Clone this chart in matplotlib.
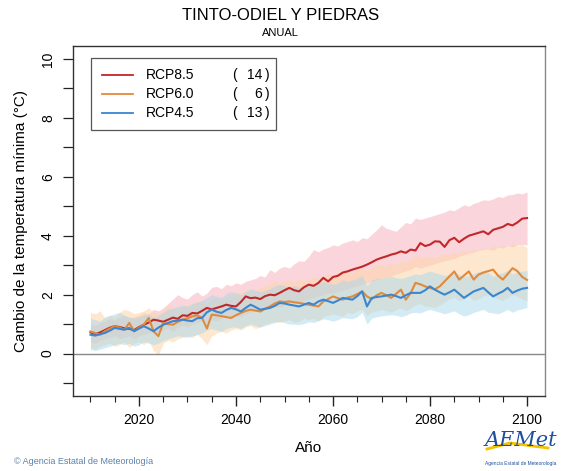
import matplotlib
matplotlib.use("Agg")
import matplotlib.pyplot as plt
import numpy as np

plt.rcParams['font.family'] = ['Liberation Sans', 'DejaVu Sans']

years = list(range(2010, 2101))

rcp85_mean = [0.72, 0.66, 0.72, 0.80, 0.88, 0.93, 0.90, 0.86, 0.84, 0.80,
              0.90, 0.98, 1.05, 1.15, 1.12, 1.08, 1.15, 1.22, 1.18, 1.30,
              1.28, 1.38, 1.36, 1.45, 1.55, 1.50, 1.55, 1.60, 1.66, 1.62,
              1.60, 1.75, 1.94, 1.88, 1.90, 1.85, 1.95, 2.00, 1.98, 2.06,
              2.15, 2.23, 2.15, 2.11, 2.25, 2.34, 2.30, 2.40, 2.57, 2.45,
              2.60, 2.64, 2.75, 2.79, 2.85, 2.90, 2.95, 3.02, 3.10, 3.19,
              3.25, 3.30, 3.36, 3.40, 3.47, 3.42, 3.53, 3.50, 3.75, 3.65,
              3.70, 3.81, 3.80, 3.62, 3.85, 3.93, 3.78, 3.90, 4.00, 4.05,
              4.10, 4.15, 4.05, 4.20, 4.25, 4.30, 4.40, 4.35, 4.45, 4.58, 4.60]
rcp85_hi = [1.00, 0.95, 1.05, 1.10, 1.20, 1.15, 1.25, 1.30, 1.20, 1.25,
            1.30, 1.40, 1.35, 1.50, 1.45, 1.55, 1.70, 1.85, 2.00, 1.90,
            1.85, 2.00, 2.10, 1.95, 2.05, 2.25, 2.28, 2.20, 2.35, 2.30,
            2.40, 2.35, 2.45, 2.50, 2.55, 2.65, 2.60, 2.85, 2.75, 2.90,
            2.96, 2.90, 3.05, 3.15, 3.13, 3.30, 3.53, 3.45, 3.55, 3.60,
            3.69, 3.65, 3.75, 3.80, 3.86, 3.80, 3.93, 3.90, 4.05, 4.20,
            4.37, 4.25, 4.20, 4.15, 4.30, 4.45, 4.40, 4.60, 4.55, 4.60,
            4.65, 4.70, 4.75, 4.80, 4.88, 4.85, 4.95, 5.05, 5.00, 5.10,
            5.15, 5.22, 5.20, 5.25, 5.33, 5.30, 5.38, 5.40, 5.45, 5.42, 5.49]
rcp85_lo = [0.40, 0.35, 0.45, 0.50, 0.55, 0.60, 0.50, 0.55, 0.60, 0.50,
            0.60, 0.65, 0.70, 0.75, 0.70, 0.80, 0.85, 0.75, 0.90, 0.95,
            0.90, 1.00, 1.05, 1.10, 1.05, 1.15, 1.10, 1.20, 1.25, 1.20,
            1.30, 1.25, 1.35, 1.40, 1.45, 1.40, 1.50, 1.55, 1.60, 1.58,
            1.65, 1.70, 1.75, 1.72, 1.80, 1.85, 1.90, 1.95, 2.00, 2.05,
            2.05, 2.10, 2.15, 2.20, 2.25, 2.30, 2.35, 2.40, 2.45, 2.50,
            2.55, 2.60, 2.62, 2.70, 2.75, 2.80, 2.85, 2.96, 2.90, 2.95,
            3.00, 3.05, 3.10, 3.15, 3.19, 3.22, 3.30, 3.35, 3.40, 3.45,
            3.50, 3.53, 3.55, 3.50, 3.60, 3.58, 3.65, 3.62, 3.68, 3.70, 3.69]

rcp60_mean = [0.75, 0.70, 0.64, 0.76, 0.85, 0.93, 0.88, 0.81, 1.04, 0.76,
              0.88, 0.98, 1.21, 0.76, 0.59, 1.04, 1.00, 0.98, 1.08, 1.15,
              1.20, 1.26, 1.30, 1.21, 0.85, 1.32, 1.30, 1.27, 1.24, 1.21,
              1.30, 1.38, 1.45, 1.49, 1.46, 1.43, 1.52, 1.60, 1.70, 1.77,
              1.75, 1.77, 1.74, 1.72, 1.69, 1.66, 1.63, 1.60, 1.77, 1.85,
              1.94, 1.88, 1.83, 1.90, 1.94, 2.02, 2.11, 1.94, 1.85, 1.98,
              2.06, 1.98, 1.89, 2.03, 2.17, 1.83, 2.05, 2.40, 2.35, 2.28,
              2.23, 2.18, 2.28, 2.45, 2.62, 2.79, 2.51, 2.65, 2.79, 2.51,
              2.68, 2.75, 2.80, 2.85, 2.65, 2.51, 2.70, 2.90, 2.80, 2.60, 2.50]
rcp60_hi = [1.40, 1.35, 1.45, 1.20, 1.30, 1.25, 1.40, 1.50, 1.45, 1.35,
            1.40, 1.45, 1.55, 1.40, 1.35, 1.45, 1.65, 1.50, 1.55, 1.60,
            1.65, 1.70, 1.75, 1.80, 1.70, 1.85, 1.90, 1.80, 1.95, 2.00,
            2.10, 2.05, 2.15, 2.20, 2.10, 2.25, 2.30, 2.35, 2.45, 2.40,
            2.45, 2.50, 2.40, 2.55, 2.45, 2.50, 2.60, 2.55, 2.65, 2.70,
            2.65, 2.75, 2.70, 2.80, 2.75, 2.85, 2.90, 2.80, 2.95, 3.00,
            3.05, 2.95, 3.10, 3.00, 3.15, 3.10, 3.20, 3.35, 3.25, 3.30,
            3.30, 3.25, 3.35, 3.40, 3.35, 3.45, 3.40, 3.50, 3.47, 3.55,
            3.50, 3.60, 3.55, 3.65, 3.60, 3.70, 3.62, 3.75, 3.64, 3.70, 3.60]
rcp60_lo = [0.20, 0.15, 0.25, 0.30, 0.35, 0.25, 0.30, 0.40, 0.20, 0.35,
            0.40, 0.30, 0.45, 0.10, -0.05, 0.35, 0.45, 0.40, 0.50, 0.55,
            0.60, 0.55, 0.65, 0.50, 0.30, 0.60, 0.70, 0.75, 0.70, 0.80,
            0.85, 0.80, 0.90, 0.95, 0.85, 0.90, 1.00, 1.05, 1.10, 1.05,
            1.10, 1.15, 1.05, 1.10, 1.20, 1.15, 1.20, 1.10, 1.25, 1.30,
            1.35, 1.30, 1.25, 1.40, 1.35, 1.45, 1.50, 1.30, 1.40, 1.45,
            1.50, 1.45, 1.40, 1.50, 1.55, 1.45, 1.55, 1.65, 1.70, 1.60,
            1.60, 1.55, 1.65, 1.75, 1.85, 1.90, 1.80, 1.85, 1.95, 1.80,
            1.85, 1.95, 2.00, 1.95, 1.85, 1.80, 1.90, 2.00, 1.95, 1.85, 1.80]

rcp45_mean = [0.64, 0.61, 0.66, 0.70, 0.78, 0.87, 0.84, 0.81, 0.87, 0.76,
              0.85, 0.93, 0.85, 0.76, 0.88, 0.98, 1.04, 1.10, 1.12, 1.15,
              1.12, 1.10, 1.20, 1.21, 1.40, 1.49, 1.42, 1.38, 1.48, 1.55,
              1.50, 1.43, 1.55, 1.66, 1.58, 1.49, 1.52, 1.55, 1.62, 1.72,
              1.70, 1.66, 1.63, 1.60, 1.66, 1.72, 1.66, 1.77, 1.83, 1.78,
              1.72, 1.80, 1.89, 1.86, 1.83, 1.95, 2.11, 1.60, 1.89, 1.92,
              1.94, 1.97, 2.00, 1.95, 1.89, 1.98, 2.06, 2.06, 2.06, 2.15,
              2.28, 2.17, 2.08, 2.00, 2.08, 2.17, 2.03, 1.89, 2.00, 2.11,
              2.17, 2.23, 2.08, 1.94, 2.03, 2.11, 2.23, 2.06, 2.14, 2.20, 2.23]
rcp45_hi = [1.20, 1.15, 1.10, 1.25, 1.30, 1.35, 1.40, 1.30, 1.25, 1.20,
            1.25, 1.30, 1.35, 1.20, 1.30, 1.40, 1.50, 1.55, 1.60, 1.65,
            1.60, 1.70, 1.75, 1.80, 1.90, 2.00, 1.95, 1.90, 2.05, 2.10,
            2.05, 2.00, 2.10, 2.20, 2.15, 2.10, 2.15, 2.20, 2.30, 2.35,
            2.30, 2.25, 2.30, 2.25, 2.30, 2.35, 2.30, 2.40, 2.45, 2.40,
            2.35, 2.40, 2.50, 2.45, 2.50, 2.55, 2.65, 2.30, 2.50, 2.55,
            2.55, 2.60, 2.62, 2.58, 2.55, 2.60, 2.65, 2.70, 2.68, 2.75,
            2.80, 2.75, 2.70, 2.65, 2.70, 2.75, 2.68, 2.60, 2.65, 2.72,
            2.78, 2.82, 2.75, 2.62, 2.70, 2.75, 2.82, 2.70, 2.78, 2.80, 2.82]
rcp45_lo = [0.15, 0.10, 0.15, 0.20, 0.25, 0.30, 0.35, 0.30, 0.35, 0.25,
            0.30, 0.40, 0.35, 0.30, 0.35, 0.45, 0.50, 0.55, 0.60, 0.58,
            0.55, 0.60, 0.65, 0.70, 0.80, 0.85, 0.80, 0.75, 0.85, 0.90,
            0.90, 0.85, 0.95, 1.00, 0.95, 0.90, 0.95, 1.00, 1.05, 1.10,
            1.05, 1.00, 1.00, 0.98, 1.02, 1.08, 1.05, 1.12, 1.18, 1.15,
            1.10, 1.15, 1.22, 1.20, 1.18, 1.25, 1.40, 1.00, 1.20, 1.25,
            1.28, 1.30, 1.32, 1.30, 1.25, 1.30, 1.38, 1.40, 1.38, 1.45,
            1.50, 1.45, 1.40, 1.35, 1.40, 1.45, 1.35, 1.27, 1.32, 1.40,
            1.45, 1.50, 1.40, 1.38, 1.35, 1.42, 1.50, 1.40, 1.48, 1.52, 1.56]

labels = ["RCP8.5", "RCP6.0", "RCP4.5"]
counts = ["14", "6", "13"]

title = "TINTO-ODIEL Y PIEDRAS"
subtitle = "ANUAL"
xlabel = "Año"
ylabel = "Cambio de la temperatura mínima (°C)"
xticks = [2020, 2040, 2060, 2080, 2100]
yticks_labeled = [0, 2, 4, 6, 8, 10]

W, H = 561, 471
fig = plt.figure(figsize=(W / 100, H / 100), dpi=100)
ax = fig.add_axes([73 / W, 1 - 396 / H, (545 - 73) / W, (396 - 46) / H])

line_cols = ["#c0282a", "#e08a3c", "#3a86d0"]
band_cols = ["#f7b9c4", "#fdd6a8", "#a9d8ea"]
series = [(rcp85_mean, rcp85_lo, rcp85_hi),
          (rcp60_mean, rcp60_lo, rcp60_hi),
          (rcp45_mean, rcp45_lo, rcp45_hi)]
alphas = [0.6, 0.55, 0.5]
for (m, lo, hi), bc, a in zip(series, band_cols, alphas):
    ax.fill_between(years, lo, hi, color=bc, alpha=a, linewidth=0)

ax.axhline(0, color="#888888", lw=1.0, zorder=1)

for (m, lo, hi), lc in zip(series, line_cols):
    ax.plot(years, m, color=lc, lw=1.5, zorder=3)

ax.set_xlim(2006.4, 2103.7)
ax.set_ylim(-1.44, 10.44)

ax.set_xticks(xticks)
ax.set_xticks(list(range(2010, 2101, 5)), minor=True)
ax.set_yticks(yticks_labeled)
ax.set_yticks([-1, 1, 3, 5, 7, 9], minor=True)
ax.tick_params(axis='x', which='major', length=7, width=1, labelsize=10, pad=5, color="#222222")
ax.tick_params(axis='x', which='minor', length=4, width=0.8, color="#222222")
ax.tick_params(axis='y', which='both', length=7, width=0.9, labelsize=10, pad=6, color="#222222")
for lab in ax.get_yticklabels():
    lab.set_rotation(90)
    lab.set_va('center')
for s in ax.spines.values():
    s.set_color("#333333")
    s.set_linewidth(1.0)
ax.spines['right'].set_color("#888888")

ax.set_xlabel(xlabel, fontsize=11, labelpad=10)
ax.set_ylabel(ylabel, fontsize=11, labelpad=9)

fig.text(0.5, 1 - 16 / H, title, ha='center', va='center', fontsize=12)
fig.text(0.5, 1 - 33 / H, subtitle, ha='center', va='center', fontsize=8)

# legend
from matplotlib.patches import Rectangle
tr = ax.transAxes
def ax_x(px):
    return (px - 73) / (545 - 73)
def ax_y(py):
    return (396 - py) / (396 - 46)
ax.add_patch(Rectangle((ax_x(91), ax_y(130)), ax_x(276) - ax_x(91), ax_y(58) - ax_y(130),
                       transform=tr, fill=True, facecolor='white', edgecolor='#555555', lw=0.9, zorder=5))
rows = [75, 94, 113]
for py, lab, cnt, lc in zip(rows, labels, counts, line_cols):
    ax.plot([ax_x(102), ax_x(133)], [ax_y(py), ax_y(py)], transform=tr, color=lc, lw=1.3, zorder=6)
    ax.text(ax_x(146), ax_y(py), lab, transform=tr, fontsize=10, va='center', ha='left', zorder=6)
    ax.text(ax_x(232), ax_y(py), "(", transform=tr, fontsize=10, va='center', ha='left', zorder=6)
    ax.text(ax_x(262), ax_y(py), cnt, transform=tr, fontsize=10, va='center', ha='right', zorder=6)
    ax.text(ax_x(265), ax_y(py), ")", transform=tr, fontsize=10, va='center', ha='left', zorder=6)

fig.text(14 / W, 1 - 461 / H, "© Agencia Estatal de Meteorología", fontsize=6.5,
         color="#5b82ad", ha='left', va='center')
fig.text(521 / W, 1 - 441 / H, "AEMet", fontsize=15, color="#1f4f9e", ha='center', va='center',
         style='italic', family=['DejaVu Serif'])
fig.text(521 / W, 1 - 463 / H, "Agencia Estatal de Meteorología", fontsize=3.5,
         color="#1f4f9e", ha='center', va='center')
fig.add_artist(plt.Line2D([487 / W, 510 / W, 548 / W], [1 - 449 / H, 1 - 443 / H, 1 - 448 / H],
                          transform=fig.transFigure, color="#f2c200", lw=2))

fig.savefig("out.png", dpi=100)
